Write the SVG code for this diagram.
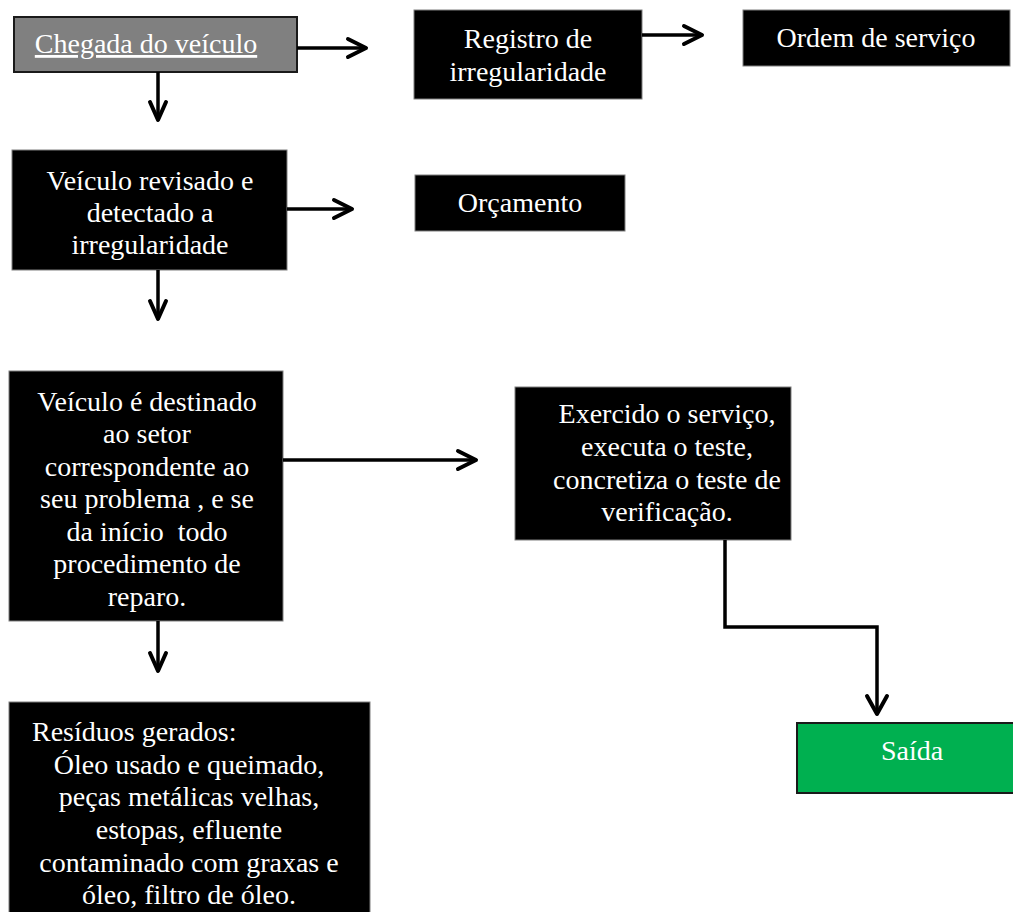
<svg xmlns="http://www.w3.org/2000/svg" width="1013" height="912" viewBox="0 0 1013 912">
<defs>
<style>
.box{fill:#000;stroke:#7f7f7f;stroke-width:1}
.t{font-family:"Liberation Serif","Times New Roman",serif;font-size:28px;fill:#fff;text-anchor:middle}
.ln{fill:none;stroke:#000;stroke-width:3.5}
.hd{fill:none;stroke:#000;stroke-width:4;stroke-linecap:round;stroke-linejoin:round}
</style>
</defs>
<rect width="1013" height="912" fill="#fff"/>
<g id="n1">
<rect x="14" y="17" width="283" height="55" fill="#808080" stroke="#1a1a1a" stroke-width="2"/>
<text class="t" x="146" y="53" text-decoration="underline">Chegada do veículo</text>
</g>
<g id="n2">
<rect class="box" x="414" y="10" width="228" height="89"/>
<text class="t" x="528" y="48">Registro de</text>
<text class="t" x="528" y="81">irregularidade</text>
</g>
<g id="n3">
<rect class="box" x="743" y="10" width="267" height="56"/>
<text class="t" x="876" y="47">Ordem de serviço</text>
</g>
<g id="n4">
<rect class="box" x="12" y="150" width="275" height="120"/>
<text class="t" x="150" y="190">Veículo revisado e</text>
<text class="t" x="150" y="222">detectado a</text>
<text class="t" x="150" y="254">irregularidade</text>
</g>
<g id="n5">
<rect class="box" x="415" y="175" width="210" height="56"/>
<text class="t" x="520" y="212">Orçamento</text>
</g>
<g id="n6">
<rect class="box" x="9" y="371" width="274" height="250"/>
<text class="t" x="147" y="411">Veículo é destinado</text>
<text class="t" x="147" y="443">ao setor</text>
<text class="t" x="147" y="476">correspondente ao</text>
<text class="t" x="147" y="508">seu problema , e se</text>
<text class="t" x="147" y="541" xml:space="preserve" style="white-space:pre">da início  todo</text>
<text class="t" x="147" y="573">procedimento de</text>
<text class="t" x="147" y="606">reparo.</text>
</g>
<g id="n7">
<rect class="box" x="515" y="387" width="276" height="153"/>
<text class="t" x="667" y="423">Exercido o serviço,</text>
<text class="t" x="667" y="456">executa o teste,</text>
<text class="t" x="667" y="489">concretiza o teste de</text>
<text class="t" x="667" y="521">verificação.</text>
</g>
<g id="n8">
<rect x="797" y="723" width="220" height="70" fill="#00B050" stroke="#1a1a1a" stroke-width="2"/>
<text class="t" x="912" y="760">Saída</text>
</g>
<g id="n9">
<rect class="box" x="9" y="702" width="361" height="215"/>
<text class="t" x="32" y="741" style="text-anchor:start">Resíduos gerados:</text>
<text class="t" x="189" y="774">Óleo usado e queimado,</text>
<text class="t" x="189" y="806">peças metálicas velhas,</text>
<text class="t" x="189" y="839">estopas, efluente</text>
<text class="t" x="189" y="872">contaminado com graxas e</text>
<text class="t" x="189" y="904">óleo, filtro de óleo.</text>
</g>
<g id="connectors">
<path class="ln" d="M297 48H366"/>
<path class="hd" d="M348 39L366 48L348 57"/>
<path class="ln" d="M158 72V120"/>
<path class="hd" d="M150 102L158 120L166 102"/>
<path class="ln" d="M642 35H702"/>
<path class="hd" d="M684 26L702 35L684 44"/>
<path class="ln" d="M287 209H352"/>
<path class="hd" d="M334 200L352 209L334 218"/>
<path class="ln" d="M158 270V319"/>
<path class="hd" d="M150 301L158 319L166 301"/>
<path class="ln" d="M283 460H476"/>
<path class="hd" d="M458 451L476 460L458 469"/>
<path class="ln" d="M158 621V671"/>
<path class="hd" d="M150 653L158 671L166 653"/>
<path class="ln" d="M725 540V627H877V714"/>
<path class="hd" d="M867 696L877 714L887 696"/>
</g>
</svg>
